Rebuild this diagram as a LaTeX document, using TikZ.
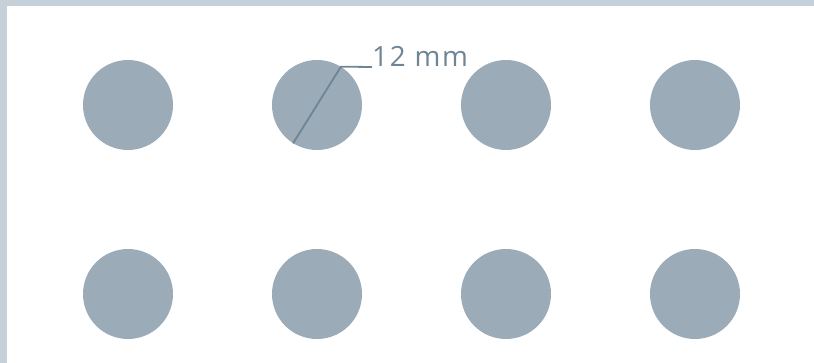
\documentclass[tikz,border=0pt]{standalone}
\usepackage{fontspec}
\setmainfont{Open Sans}
\definecolor{frame}{HTML}{C5D0D9}
\definecolor{dot}{HTML}{9BABB8}
\definecolor{dim}{HTML}{6F8593}
\begin{document}
\begin{tikzpicture}[x=1pt,y=-1pt,
  dotc/.style={circle,fill=dot,draw=none,minimum size=90pt,inner sep=0pt},
  lbl/.style={text=dim,font=\addfontfeatures{LetterSpace=6}\fontsize{27.8}{30}\selectfont,inner sep=0pt,anchor=base west}]
\useasboundingbox (0,0) rectangle (814,363);
\fill[frame] (0,0) rectangle (814,6);
\fill[frame] (0,0) rectangle (7,363);
\foreach \i/\x in {1/128,2/317,3/506,4/695}{
  \node[dotc] (t\i) at (\x,105) {};
  \node[dotc] (b\i) at (\x,294) {};
}
\coordinate (d1) at (t2.238);
\coordinate (d2) at (t2.58);
\node[lbl] (lab) at (372,67) {12 mm};
\draw[dim,line width=1.8pt] (d1) -- (d2) -- (lab.base west);
\end{tikzpicture}
\end{document}
